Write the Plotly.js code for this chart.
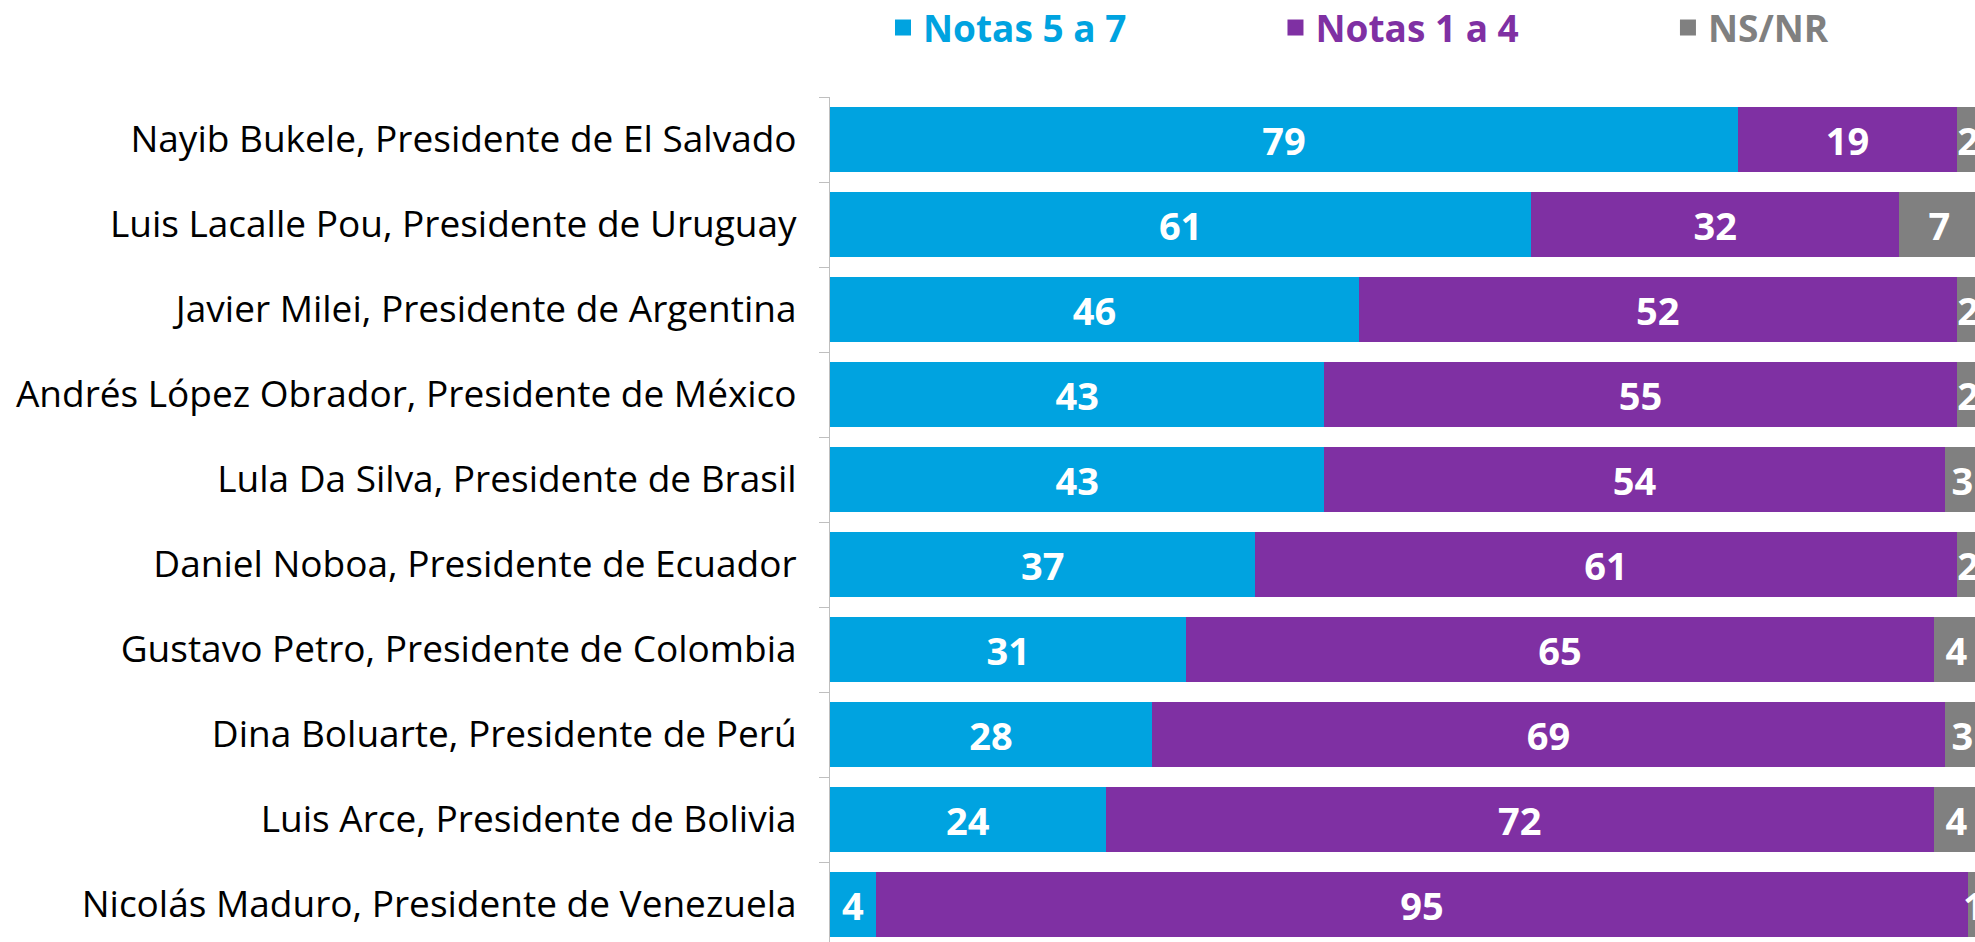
<!DOCTYPE html>
<html>
<head>
<meta charset="utf-8">
<script src="https://cdn.plot.ly/plotly-3.0.1.min.js"></script>
<style>html,body{margin:0;padding:0;background:#fff;overflow:hidden;}#chart{width:1975px;height:942px;}</style>
</head>
<body>
<div id="chart"></div>
<script>
const categories = [
  "Nayib Bukele, Presidente de El Salvado",
  "Luis Lacalle Pou, Presidente de Uruguay",
  "Javier Milei, Presidente de Argentina",
  "Andrés López Obrador, Presidente de México",
  "Lula Da Silva, Presidente de Brasil",
  "Daniel Noboa, Presidente de Ecuador",
  "Gustavo Petro, Presidente de Colombia",
  "Dina Boluarte, Presidente de Perú",
  "Luis Arce, Presidente de Bolivia",
  "Nicolás Maduro, Presidente de Venezuela"
];
const notas5a7 = [79, 61, 46, 43, 43, 37, 31, 28, 24, 4];
const notas1a4 = [19, 32, 52, 55, 54, 61, 65, 69, 72, 95];
const nsnr     = [2, 7, 2, 2, 3, 2, 4, 3, 4, 1];
const seriesNames = ["Notas 5 a 7", "Notas 1 a 4", "NS/NR"];
const seriesColors = ["#00a3e0", "#7f30a3", "#808080"];
const seriesValues = [notas5a7, notas1a4, nsnr];
const legendPad = [15, 15, 0];

const nbsp = n => "&nbsp;".repeat(n);

const barTraces = seriesValues.map((vals, i) => ({
  type: "bar",
  orientation: "h",
  y: categories,
  x: vals,
  name: seriesNames[i],
  legendgroup: "g" + i,
  showlegend: false,
  marker: {color: seriesColors[i], line: {width: 0}},
  text: vals.map(String),
  textposition: "inside",
  insidetextanchor: "middle",
  textangle: 0,
  textfont: {family: "Open Sans", size: 38, color: "#ffffff", weight: 700},
  hoverinfo: "x+y"
}));

const legendTraces = seriesNames.map((nm, i) => ({
  type: "scatter",
  mode: "markers",
  x: [null],
  y: [null],
  legendgroup: "g" + i,
  showlegend: true,
  name: '<span style="color:' + seriesColors[i] + '"><b>' + nm + '</b></span>' + nbsp(legendPad[i]),
  marker: {symbol: "square", size: 16, color: seriesColors[i]},
  hoverinfo: "skip"
}));

const layout = {
  width: 1975,
  height: 942,
  barmode: "stack",
  bargap: 0.235,
  margin: {l: 830, r: 0, t: 97, b: 0, pad: 0, autoexpand: false},
  paper_bgcolor: "#ffffff",
  plot_bgcolor: "#ffffff",
  uniformtext: {mode: "show", minsize: 38},
  showlegend: true,
  legend: {
    orientation: "h",
    x: 0.0463,
    xanchor: "left",
    y: 1.0817,
    yanchor: "middle",
    font: {family: "Open Sans", size: 37, weight: 700},
    traceorder: "normal",
    itemsizing: "trace",
    bgcolor: "rgba(0,0,0,0)"
  },
  xaxis: {
    range: [0, 99.6],
    showgrid: false,
    zeroline: false,
    showticklabels: false,
    ticks: "",
    showline: false,
    fixedrange: true
  },
  yaxis: {
    type: "category",
    categoryorder: "array",
    categoryarray: categories,
    range: [9.441, -0.5],
    tickson: "boundaries",
    ticks: "outside",
    ticklen: 10,
    tickwidth: 1,
    tickcolor: "#bfbfbf",
    showline: true,
    linecolor: "#bfbfbf",
    linewidth: 1,
    showgrid: false,
    zeroline: false,
    ticklabelstandoff: 25,
    tickfont: {family: "Open Sans", size: 37, color: "#000000"},
    fixedrange: true
  }
};

Plotly.newPlot("chart", barTraces.concat(legendTraces), layout, {displayModeBar: false, staticPlot: true});
</script>
</body>
</html>
